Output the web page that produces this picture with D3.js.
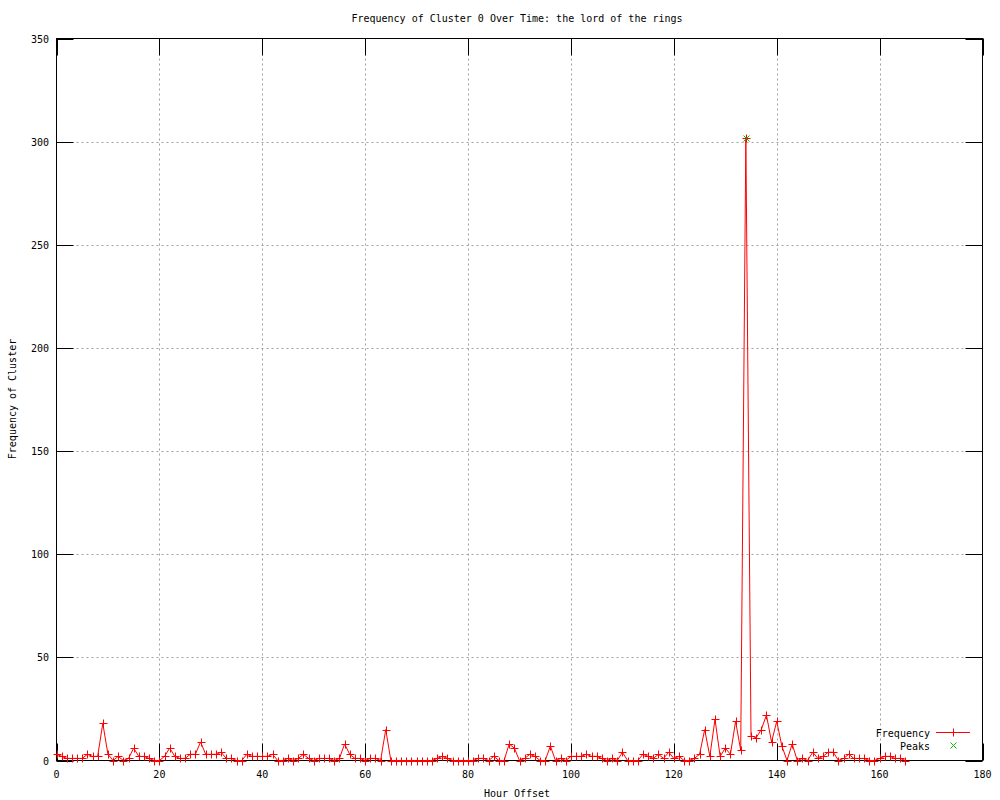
<!DOCTYPE html>
<html><head><meta charset="utf-8">
<script src="https://cdn.jsdelivr.net/npm/d3@7/dist/d3.min.js"></script>
<style>body{margin:0;background:#fff}svg{display:block}text{font-family:"DejaVu Sans Mono",monospace;font-size:10px;fill:#000}</style>
</head><body><svg id="c" width="1000" height="800"></svg>
<script>
const hours = d3.range(0, 166);
const frequency = [
 3,2,1,1,1,1,3,2,2,18, 3,0,2,0,1,6,2,2,1,0,
 0,2,6,2,1,1,3,3,9,3, 3,3,4,1,1,0,0,3,2,2,
 2,2,3,0,0,1,0,1,3,1, 0,1,1,1,0,1,8,3,1,1,
 0,1,1,0,15,0,0,0,0,0, 0,0,0,0,1,2,1,0,0,0,
 0,0,1,1,0,2,0,0,8,6, 0,1,3,2,0,0,7,0,1,0,
 2,2,2,3,2,2,1,0,1,0, 4,0,0,0,3,2,1,3,1,4,
 1,2,0,0,1,3,15,2,20,2, 6,3,19,5,302,12,11,15,22,9,
 19,7,0,8,0,1,0,4,1,2, 4,4,0,1,3,1,1,1,0,0,
 1,2,2,1,1,0
];
const peakHours = [134];
const peakValues = [302];
const xTicks = [0,20,40,60,80,100,120,140,160,180];
const yTicks = [0,50,100,150,200,250,300,350];
const title = "Frequency of Cluster 0 Over Time: the lord of the rings";
const xLabel = "Hour Offset";
const yLabel = "Frequency of Cluster";

const svg = d3.select("#c");
const L = 56.5, R = 982.5, T = 38.5, B = 760.5;
const x = d3.scaleLinear().domain([0,180]).range([L,R]);
const y = d3.scaleLinear().domain([0,350]).range([B,T]);

// grid
const g = svg.append("g");
g.selectAll("line.gx").data(xTicks.filter(d=>d>0&&d<180)).join("line")
 .attr("x1",d=>Math.round(x(d))+0.5).attr("x2",d=>Math.round(x(d))+0.5).attr("y1",T).attr("y2",B)
 .attr("stroke","#a0a0a0").attr("stroke-dasharray","2,3");
g.selectAll("line.gy").data(yTicks.filter(d=>d>0&&d<350)).join("line")
 .attr("y1",d=>Math.round(y(d))+0.5).attr("y2",d=>Math.round(y(d))+0.5).attr("x1",L).attr("x2",R)
 .attr("stroke","#a0a0a0").attr("stroke-dasharray","2,3");

// ticks (mirrored, inward)
const tk = svg.append("g").attr("stroke","#000");
xTicks.forEach(d=>{
  const px = Math.round(x(d))+0.5;
  tk.append("line").attr("x1",px).attr("x2",px).attr("y1",B).attr("y2",B-17);
  tk.append("line").attr("x1",px).attr("x2",px).attr("y1",T).attr("y2",T+17);
});
yTicks.forEach(d=>{
  const py = Math.round(y(d))+0.5;
  tk.append("line").attr("x1",L).attr("x2",L+17).attr("y1",py).attr("y2",py);
  tk.append("line").attr("x1",R).attr("x2",R-17).attr("y1",py).attr("y2",py);
});

// frame
svg.append("rect").attr("x",L).attr("y",T).attr("width",R-L).attr("height",B-T)
 .attr("fill","none").attr("stroke","#000");

// tick labels
svg.append("g").selectAll("text").data(xTicks).join("text")
 .attr("x",d=>x(d)).attr("y",B+17).attr("text-anchor","middle").text(d=>d);
svg.append("g").selectAll("text").data(yTicks).join("text")
 .attr("x",49).attr("y",d=>y(d)+4).attr("text-anchor","end").text(d=>d);

// titles
svg.append("text").attr("x",517).attr("y",22).attr("text-anchor","middle").text(title);
svg.append("text").attr("x",517).attr("y",797).attr("text-anchor","middle").text(xLabel);
svg.append("text").attr("transform","translate(16,399) rotate(-90)").attr("text-anchor","middle").text(yLabel);

// data line
const pts = hours.map((h,i)=>[h,frequency[i]]);
svg.append("path").datum(pts)
 .attr("d", d3.line().x(d=>x(d[0])).y(d=>y(d[1])))
 .attr("fill","none").attr("stroke","#ff0000").attr("stroke-width",1);

const plus = (sel, cx, cy, s, col) => {
  sel.append("line").attr("x1",cx-s).attr("x2",cx+s).attr("y1",cy).attr("y2",cy).attr("stroke",col);
  sel.append("line").attr("x1",cx).attr("x2",cx).attr("y1",cy-s).attr("y2",cy+s).attr("stroke",col);
};
const cross = (sel, cx, cy, s, col) => {
  sel.append("line").attr("x1",cx-s).attr("x2",cx+s).attr("y1",cy-s).attr("y2",cy+s).attr("stroke",col);
  sel.append("line").attr("x1",cx-s).attr("x2",cx+s).attr("y1",cy+s).attr("y2",cy-s).attr("stroke",col);
};
const mk = svg.append("g");
pts.forEach(d=>plus(mk, Math.round(x(d[0]))+0.5, Math.round(y(d[1]))+0.5, 4, "#ff0000"));

const pk = svg.append("g");
peakHours.forEach((h,i)=>cross(pk, Math.round(x(h))+0.5, Math.round(y(peakValues[i]))+0.5, 3, "#00c000"));

// legend
svg.append("text").attr("x",930).attr("y",737).attr("text-anchor","end").text("Frequency");
svg.append("line").attr("x1",936).attr("x2",970).attr("y1",732.5).attr("y2",732.5).attr("stroke","#ff0000");
plus(svg, 953.5, 732.5, 4, "#ff0000");
svg.append("text").attr("x",930).attr("y",750).attr("text-anchor","end").text("Peaks");
cross(svg, 953.5, 745.5, 3, "#00c000");
</script></body></html>
